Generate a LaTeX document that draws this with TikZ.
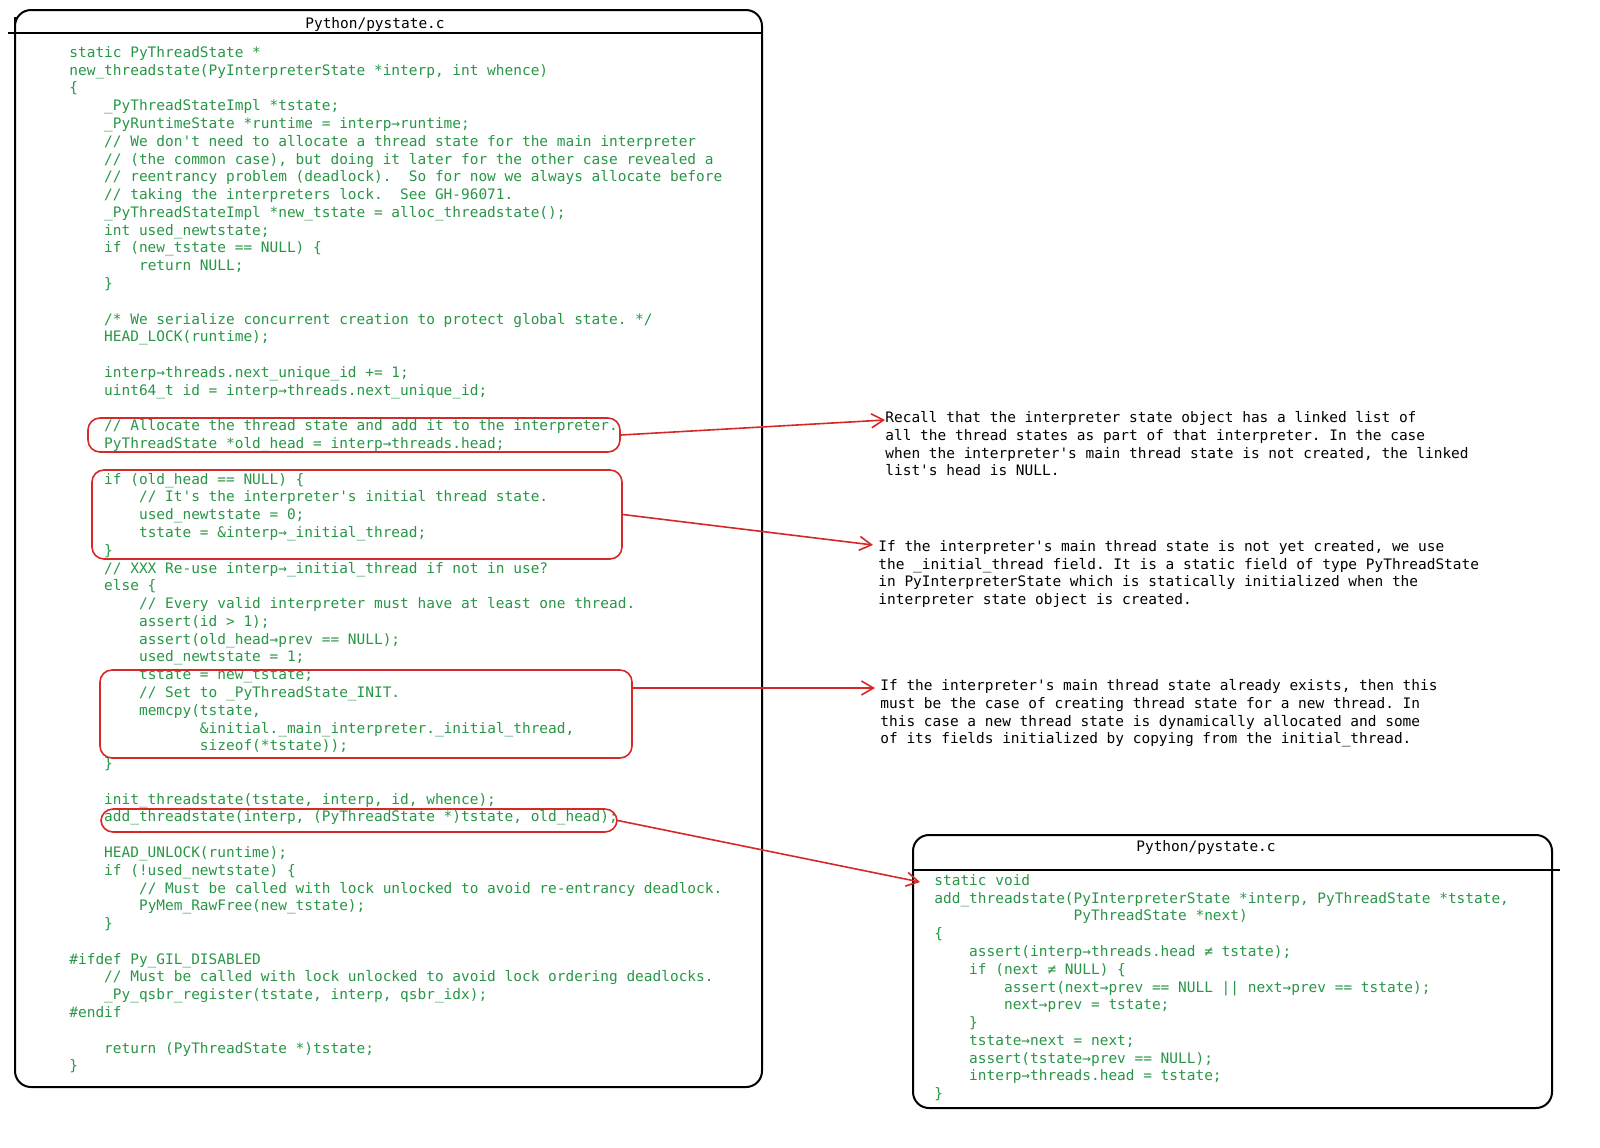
\documentclass[tikz,border=0pt]{standalone}
\usepackage{fontspec}
\setmonofont{DejaVu Sans Mono}
\usetikzlibrary{arrows.meta,fit,positioning}
\definecolor{codegreen}{RGB}{40,150,70}
\definecolor{hlred}{RGB}{215,40,40}
\newlength\cw
\newcommand\I[1]{\hspace*{#1\cw}}
\newcommand\cfont{\ttfamily\fontsize{7.23}{8.89}\selectfont\settowidth\cw{x}}
\tikzstyle{panel} = [line width=1pt, rounded corners=8pt, draw=black]
\tikzstyle{code} = [anchor=north west, inner sep=0pt, align=left, text=codegreen, font=\cfont]
\tikzstyle{note} = [anchor=north west, inner sep=0pt, align=left, text=black, font=\cfont]
\tikzstyle{hl} = [draw=hlred, line width=0.8pt, rounded corners=6pt, inner sep=0pt]
\tikzstyle{arrow} = [draw=hlred, line width=0.8pt, -{Straight Barb[length=6pt,width=7pt]}]
\begin{document}
\begin{tikzpicture}[x=0.5pt, y=-0.5pt]
\useasboundingbox (0,0) rectangle (1600,1147);
% left panel
\draw [panel] (15,33) -- (15,1087) -- (762,1087) -- (762,10) -- (15,10) -- cycle;
\draw [line width=1pt] (8,33) -- (762,33);
\node [note] (titleL) at (375,25) [anchor=center] {Python/pystate.c};
\node [code] (newts) at (69,46) {static PyThreadState *\\
new\_threadstate(PyInterpreterState *interp, int whence)\\
\{\\
\I4\_PyThreadStateImpl *tstate;\\
\I4\_PyRuntimeState *runtime = interp→runtime;\\
\I4// We don't need to allocate a thread state for the main interpreter\\
\I4// (the common case), but doing it later for the other case revealed a\\
\I4// reentrancy problem (deadlock).\I2So for now we always allocate before\\
\I4// taking the interpreters lock.\I2See GH-96071.\\
\I4\_PyThreadStateImpl *new\_tstate = alloc\_threadstate();\\
\I4int used\_newtstate;\\
\I4if (new\_tstate == NULL) \{\\
\I8return NULL;\\
\I4\}\\
\mbox{}\\
\I4/* We serialize concurrent creation to protect global state. */\\
\I4HEAD\_LOCK(runtime);\\
\mbox{}\\
\I4interp→threads.next\_unique\_id += 1;\\
\I4uint64\_t id = interp→threads.next\_unique\_id;\\
\mbox{}\\
\I4// Allocate the thread state and add it to the interpreter.\\
\I4PyThreadState *old\_head = interp→threads.head;\\
\mbox{}\\
\I4if (old\_head == NULL) \{\\
\I8// It's the interpreter's initial thread state.\\
\I8used\_newtstate = 0;\\
\I8tstate = \&interp→\_initial\_thread;\\
\I4\}\\
\I4// XXX Re-use interp→\_initial\_thread if not in use?\\
\I4else \{\\
\I8// Every valid interpreter must have at least one thread.\\
\I8assert(id > 1);\\
\I8assert(old\_head→prev == NULL);\\
\I8used\_newtstate = 1;\\
\I8tstate = new\_tstate;\\
\I8// Set to \_PyThreadState\_INIT.\\
\I8memcpy(tstate,\\
\I{15}\&initial.\_main\_interpreter.\_initial\_thread,\\
\I{15}sizeof(*tstate));\\
\I4\}\\
\mbox{}\\
\I4init\_threadstate(tstate, interp, id, whence);\\
\I4add\_threadstate(interp, (PyThreadState *)tstate, old\_head);\\
\mbox{}\\
\I4HEAD\_UNLOCK(runtime);\\
\I4if (!used\_newtstate) \{\\
\I8// Must be called with lock unlocked to avoid re-entrancy deadlock.\\
\I8PyMem\_RawFree(new\_tstate);\\
\I4\}\\
\mbox{}\\
\#ifdef Py\_GIL\_DISABLED\\
\I4// Must be called with lock unlocked to avoid lock ordering deadlocks.\\
\I4\_Py\_qsbr\_register(tstate, interp, qsbr\_idx);\\
\#endif\\
\mbox{}\\
\I4return (PyThreadState *)tstate;\\
\}};
% highlighted parts
\node [hl, fit={(88,418) (620,452)}] (hlHead) {};
\node [hl, fit={(92,470) (622,559)}] (hlInit) {};
\node [hl, fit={(100,670) (632,758)}] (hlCopy) {};
\node [hl, fit={(101,809) (617,832)}] (hlAdd) {};
% notes
\node [note] (noteHead) at (885,411) {Recall that the interpreter state object has a linked list of\\
all the thread states as part of that interpreter. In the case\\
when the interpreter's main thread state is not created, the linked\\
list's head is NULL.};
\node [note] (noteInit) at (878,540) {If the interpreter's main thread state is not yet created, we use\\
the \_initial\_thread field. It is a static field of type PyThreadState\\
in PyInterpreterState which is statically initialized when the\\
interpreter state object is created.};
\node [note] (noteCopy) at (880,679) {If the interpreter's main thread state already exists, then this\\
must be the case of creating thread state for a new thread. In\\
this case a new thread state is dynamically allocated and some\\
of its fields initialized by copying from the initial\_thread.};
% right panel
\draw [panel] (913,870) -- (913,1108) -- (1552,1108) -- (1552,835) -- (913,835) -- cycle;
\draw [line width=1pt] (913,870) -- (1560,870);
\node [note] (titleR) at (1206,847) [anchor=center] {Python/pystate.c};
\node [code] (addts) at (934,874) {static void\\
add\_threadstate(PyInterpreterState *interp, PyThreadState *tstate,\\
\I{16}PyThreadState *next)\\
\{\\
\I4assert(interp→threads.head ≠ tstate);\\
\I4if (next ≠ NULL) \{\\
\I8assert(next→prev == NULL || next→prev == tstate);\\
\I8next→prev = tstate;\\
\I4\}\\
\I4tstate→next = next;\\
\I4assert(tstate→prev == NULL);\\
\I4interp→threads.head = tstate;\\
\}};
\coordinate (tipHead) at (885,420);
\coordinate (tipInit) at (873,545);
\coordinate (tipCopy) at (875,688);
\coordinate (tipAdd) at (920,882);
\draw [arrow] (hlHead.east) -- (tipHead);
\draw [arrow] (hlInit.east) -- (tipInit);
\draw [arrow] (hlCopy.east |- tipCopy) -- (tipCopy);
\draw [arrow] (hlAdd.east) -- (tipAdd);
\end{tikzpicture}
\end{document}
